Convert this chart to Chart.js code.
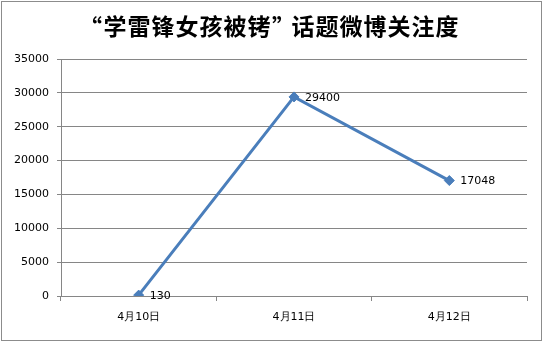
<!DOCTYPE html>
<html>
<head>
<meta charset="utf-8">
<script src="https://cdn.jsdelivr.net/npm/chart.js@4"></script>
<style>
  html, body { margin: 0; padding: 0; background: #fff; }
  #wrap { width: 544px; height: 343px; }
</style>
</head>
<body>
<div id="wrap"><canvas id="chart" width="544" height="343"></canvas></div>
<script>
// chart data
const titleText = "“学雷锋女孩被铐”话题微博关注度";
const days = ["4月10日", "4月11日", "4月12日"];
const attention = [130, 29400, 17048];
const yMax = 35000;
const yStep = 5000;

const lineColor = "#4a7ebb";
const gridColor = "#868686";
const tickFont = { family: "DejaVu Sans", size: 11 };

// frame + title drawn by hand; CJK chars on a fixed pitch, quotes hugging the words
const framePlugin = {
  id: "frame",
  beforeDraw(chart) {
    const ctx = chart.ctx;
    ctx.save();
    ctx.fillStyle = "#fff";
    ctx.fillRect(0, 0, chart.width, chart.height);
    ctx.strokeStyle = "#8c8c8c";
    ctx.lineWidth = 1;
    ctx.strokeRect(1.5, 1.5, 540, 339);
    ctx.fillStyle = "#000";
    ctx.font = "bold 23px 'Noto Sans CJK SC'";
    ctx.textBaseline = "middle";
    const pitch = 24, quoteW = 20;
    let x = 83;
    Array.from(titleText).forEach(c => {
      if (c === "“") {
        ctx.textAlign = "right";
        ctx.fillText(c, x + quoteW - 1, 27);
        x += quoteW;
      } else if (c === "”") {
        ctx.textAlign = "left";
        ctx.fillText(c, x + 1, 27);
        x += quoteW;
      } else {
        ctx.textAlign = "center";
        ctx.fillText(c, x + pitch / 2, 26);
        x += pitch;
      }
    });
    ctx.restore();
  }
};

// value labels to the right of each point
const valueLabels = {
  id: "valueLabels",
  afterDatasetsDraw(chart) {
    const ctx = chart.ctx;
    const meta = chart.getDatasetMeta(0);
    ctx.save();
    ctx.fillStyle = "#000";
    ctx.font = "11px 'DejaVu Sans'";
    ctx.textAlign = "left";
    ctx.textBaseline = "middle";
    meta.data.forEach((pt, i) => {
      ctx.fillText(String(attention[i]), pt.x + 11, pt.y + 1);
    });
    ctx.restore();
  }
};

new Chart(document.getElementById("chart"), {
  type: "line",
  data: {
    labels: days,
    datasets: [{
      data: attention,
      borderColor: lineColor,
      backgroundColor: lineColor,
      borderWidth: 3,
      pointStyle: "rectRot",
      pointRadius: 5,
      pointBorderWidth: 1,
      tension: 0
    }]
  },
  options: {
    responsive: false,
    animation: false,
    events: [],
    layout: { padding: { top: 59, right: 17, bottom: 0, left: 0 } },
    plugins: { legend: { display: false }, title: { display: false }, tooltip: { enabled: false } },
    scales: {
      x: {
        offset: true,
        afterFit(s) { s.height = 47; },
        grid: { offset: true, drawOnChartArea: false, drawTicks: true, tickLength: 5, color: gridColor },
        border: { color: gridColor },
        ticks: { color: "#000", font: tickFont, padding: 10, maxRotation: 0 }
      },
      y: {
        min: 0,
        max: yMax,
        afterFit(s) { s.width = 61; },
        grid: { color: gridColor, tickLength: 4 },
        border: { color: gridColor },
        ticks: { stepSize: yStep, color: "#000", font: tickFont, padding: 8, callback: v => String(v) }
      }
    }
  },
  plugins: [framePlugin, valueLabels]
});
</script>
</body>
</html>
